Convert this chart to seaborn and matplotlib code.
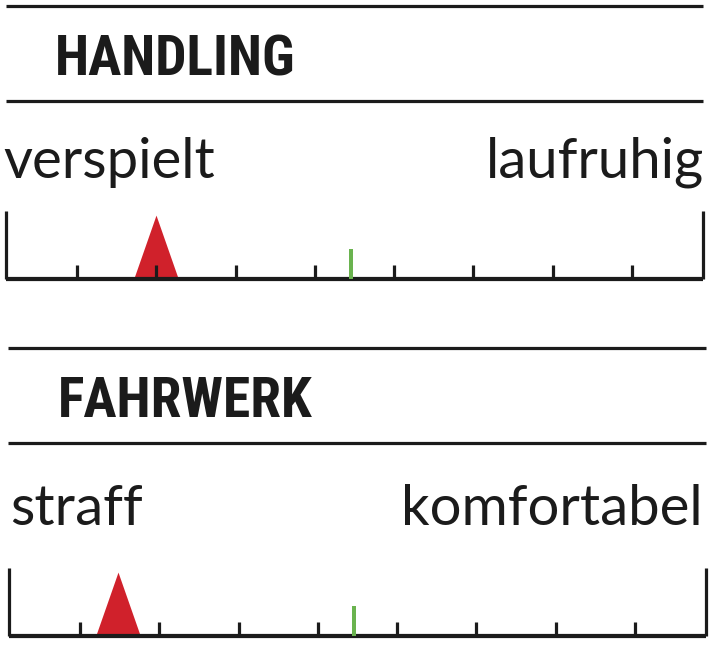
import numpy as np
import pandas as pd
import matplotlib
matplotlib.use("Agg")
import matplotlib.pyplot as plt
import matplotlib.font_manager as fm
from matplotlib.path import Path
import seaborn as sns

# ---------------- data ----------------
categories = ["HANDLING", "FAHRWERK"]
left_labels = ["verspielt", "straff"]
right_labels = ["laufruhig", "komfortabel"]
test_values = [2.0, 1.48]          # red triangle position
reference_values = [4.45, 4.45]    # green tick position
scale_ticks = [1, 2, 3, 4, 5, 6, 7, 8]
scale_range = [0.1, 8.9]

# ---------------- style ----------------
sns.set_theme(style="white")
names = {f.name for f in fm.fontManager.ttflist}
stretches = {(f.name, f.stretch) for f in fm.fontManager.ttflist}
if "Roboto Condensed" in names:
    title_kw = dict(family="Roboto Condensed", weight="bold")
elif "Liberation Sans Narrow" in names:
    title_kw = dict(family="Liberation Sans Narrow", weight="bold")
elif ("DejaVu Sans", "condensed") in stretches:
    title_kw = dict(family="DejaVu Sans", weight="bold", stretch="condensed")
else:
    title_kw = dict(family="Roboto", weight="bold")
label_family = "Lato" if "Lato" in names else "DejaVu Sans"
plt.rcParams["font.family"] = [label_family, "DejaVu Sans"]

INK = "#1b1b1b"
RED = "#d0212b"
GREEN = "#6ab34f"

W, H = 712, 646
fig = plt.figure(figsize=(W / 100, H / 100), dpi=100)
fig.patch.set_facecolor("white")

# overlay axes in pixel coordinates for layout elements
ov = fig.add_axes([0, 0, 1, 1])
ov.set_xlim(0, W)
ov.set_ylim(H, 0)
ov.axis("off")

panels = [
    dict(lines_y=(6, 101), lines_x=(6, 703), title_xy=(55, 76),
         label_base=178, label_x=(3, 704), scale_x=(6, 703), base=279),
    dict(lines_y=(348, 443), lines_x=(8, 706), title_xy=(58, 417),
         label_base=525, label_x=(10, 703), scale_x=(9, 706), base=636),
]

lw_px = 3.2 * 0.72  # ~3 px in points
tri_verts = [(-0.7, 0.0), (0.7, 0.0), (0.0, 2.0), (-0.7, 0.0)]
tri_marker = Path(tri_verts)

for i, p in enumerate(panels):
    for y in p["lines_y"]:
        ov.plot(p["lines_x"], [y, y], color=INK, lw=lw_px, solid_capstyle="butt")
    ov.text(p["title_xy"][0], p["title_xy"][1], categories[i], color=INK,
            fontsize=40, va="baseline", ha="left", **title_kw)
    ov.text(p["label_x"][0], p["label_base"], left_labels[i], color=INK,
            fontsize=40.5, va="baseline", ha="left")
    ov.text(p["label_x"][1], p["label_base"], right_labels[i], color=INK,
            fontsize=40.5, va="baseline", ha="right")

    # scale axes: y in pixel units (0..70)
    x0, x1 = p["scale_x"]
    ax = fig.add_axes([x0 / W, (H - p["base"]) / H, (x1 - x0) / W, 70 / H])

    df = pd.DataFrame({"x": [test_values[i]], "y": [0.0]})
    sns.scatterplot(data=df, x="x", y="y", marker=tri_marker, s=92 ** 2,
                    color=RED, linewidth=0, ax=ax, zorder=2, clip_on=False,
                    legend=False)
    ax.set_xlim(*scale_range)
    ax.set_ylim(0, 70)
    ax.axis("off")

    ax.vlines(scale_ticks, 0, 14, color=INK, lw=lw_px, zorder=3, clip_on=False)
    ax.vlines(scale_range, 0, 68, color=INK, lw=lw_px, zorder=3, clip_on=False)
    ax.hlines(0, *scale_range, color=INK, lw=4.2 * 0.72, zorder=3, clip_on=False)
    ax.vlines(reference_values[i], 0, 30, color=GREEN, lw=4 * 0.72, zorder=4,
              clip_on=False)

fig.savefig("out.png", dpi=100, facecolor="white")
